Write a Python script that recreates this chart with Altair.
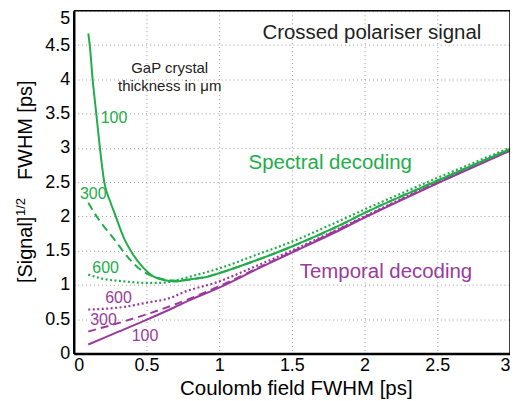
import altair as alt
import pandas as pd

# ---- data ----
g100_x = [0.10, 0.11, 0.13, 0.155, 0.18, 0.21, 0.25, 0.28, 0.35, 0.40, 0.47, 0.55, 0.62, 0.69, 0.80, 0.92, 1.00, 1.27, 1.50, 1.82, 2.00, 2.50, 3.00]
g100_y = [4.67, 4.50, 4.00, 3.50, 3.00, 2.50, 2.22, 2.05, 1.66, 1.47, 1.27, 1.12, 1.07, 1.05, 1.08, 1.12, 1.17, 1.37, 1.56, 1.86, 2.05, 2.52, 2.98]

g300_x = [0.10, 0.16, 0.28, 0.37, 0.46, 0.55, 0.62, 0.70, 0.80, 0.92, 1.00, 1.27, 1.50, 1.82, 2.00, 2.50, 3.00]
g300_y = [2.20, 1.99, 1.66, 1.41, 1.22, 1.12, 1.08, 1.06, 1.08, 1.12, 1.17, 1.37, 1.56, 1.86, 2.05, 2.52, 2.98]

g600_x = [0.10, 0.20, 0.35, 0.50, 0.60, 0.69, 0.80, 1.00, 1.27, 1.50, 1.75, 2.00, 2.50, 3.00]
g600_y = [1.15, 1.09, 1.05, 1.03, 1.03, 1.06, 1.12, 1.24, 1.45, 1.63, 1.86, 2.10, 2.56, 3.00]

p100_x = [0.10, 0.30, 0.50, 0.69, 0.79, 1.00, 1.27, 1.50, 1.82, 2.00, 2.50, 3.00]
p100_y = [0.13, 0.31, 0.49, 0.67, 0.77, 0.96, 1.24, 1.47, 1.79, 1.98, 2.48, 2.96]

p300_x = [0.10, 0.35, 0.50, 0.69, 1.00, 1.27, 1.50, 2.00, 2.50, 3.00]
p300_y = [0.32, 0.47, 0.57, 0.71, 0.98, 1.25, 1.48, 1.99, 2.49, 2.96]

p600_x = [0.10, 0.35, 0.50, 0.69, 0.73, 1.00, 1.27, 1.50, 2.00, 2.50, 3.00]
p600_y = [0.64, 0.68, 0.74, 0.83, 0.87, 1.05, 1.29, 1.50, 2.00, 2.50, 2.97]

x_ticks = [0, 0.5, 1, 1.5, 2, 2.5, 3]
y_ticks = [0, 0.5, 1, 1.5, 2, 2.5, 3, 3.5, 4, 4.5, 5]

GREEN = "#22ad4b"
PURPLE = "#9a3a9c"
FONT = "Liberation Sans"

xs = alt.Scale(domain=[0, 3], nice=False, zero=False)
ys = alt.Scale(domain=[0, 5], nice=False, zero=False)

x_axis = alt.Axis(values=x_ticks, tickCount=7, title="Coulomb field FWHM [ps]",
                  titleX=223, labelExpr="format(datum.value, '~g')")
y_axis = alt.Axis(values=y_ticks, tickCount=11, title=None,
                  labelExpr="format(datum.value, '~g')",
                  labelOffset={"expr": "datum.value == 5 ? 8 : 0"})


def line(xv, yv, color, dash, width=2.0):
    df = pd.DataFrame({"x": xv, "y": yv})
    kw = dict(color=color, strokeWidth=width, interpolate="monotone")
    if dash:
        kw["strokeDash"] = dash
    return alt.Chart(df).mark_line(**kw).encode(
        x=alt.X("x:Q", scale=xs, axis=x_axis),
        y=alt.Y("y:Q", scale=ys, axis=y_axis),
    )


def label(text, xv, yv, color, size):
    return alt.Chart().mark_text(text=text, color=color, fontSize=size, font=FONT,
                                 align="center", baseline="middle").encode(
        x=alt.XDatum(xv, scale=xs, axis=x_axis),
        y=alt.YDatum(yv, scale=ys, axis=y_axis))


def ytitle(text, px, py, size):
    return alt.Chart().mark_text(text=text, color="black", fontSize=size, font=FONT,
                                 angle=270, align="center", baseline="middle").encode(
        x=alt.value(px), y=alt.value(py))


top_border = alt.Chart().mark_rule(color="black", strokeWidth=1.5).encode(
    y=alt.YDatum(5, scale=ys, axis=y_axis), x=alt.value(0), x2=alt.value(438))
right_border = alt.Chart().mark_rule(color="black", strokeWidth=1.5).encode(
    x=alt.XDatum(3, scale=xs, axis=x_axis), y=alt.value(0), y2=alt.value(344))

layers = [
    line(p100_x, p100_y, PURPLE, None),
    line(p300_x, p300_y, PURPLE, [8, 5]),
    line(p600_x, p600_y, PURPLE, [2, 2.5], 2.2),
    line(g100_x, g100_y, GREEN, None),
    line(g300_x, g300_y, GREEN, [8, 5]),
    line(g600_x, g600_y, GREEN, [2, 2.5], 2.2),
    top_border,
    right_border,
    label("Crossed polariser signal", 2.05, 4.68, "#222222", 20.5),
    label("GaP crystal", 0.66, 4.17, "#222222", 15),
    label("thickness in μm", 0.66, 3.90, "#222222", 15),
    label("100", 0.277, 3.44, GREEN, 16),
    label("300", 0.134, 2.33, GREEN, 16),
    label("600", 0.219, 1.25, GREEN, 16),
    label("600", 0.308, 0.81, PURPLE, 16),
    label("300", 0.205, 0.48, PURPLE, 16),
    label("100", 0.49, 0.26, PURPLE, 16),
    label("Spectral decoding", 1.764, 2.78, GREEN, 20.5),
    label("Temporal decoding", 2.147, 1.19, PURPLE, 20.5),
    ytitle("FWHM [ps]", -48, 120, 20),
    ytitle("[Signal]", -48, 240, 20),
    ytitle("1/2", -53, 197, 13),
]

chart = alt.layer(*layers).properties(
    width=438, height=344,
    autosize=alt.AutoSizeParams(type="none"),
    padding={"left": 66, "top": 2, "right": 0, "bottom": 50},
    background="white",
).configure_view(
    stroke=None
).configure_axis(
    labelFont=FONT, labelFontSize=18, labelColor="black",
    titleFont=FONT, titleFontSize=20.5, titleColor="black", titleFontWeight="normal",
    domainColor="black", domainWidth=2.5,
    ticks=False, labelPadding=4, labelOverlap=False,
    grid=True, gridColor="#9a9a9a", gridDash=[1, 3], gridWidth=1,
).configure_axisX(
    titlePadding=4, labelPadding=3,
)

chart.save("out.html", embed_options={"renderer": "svg", "actions": False})
